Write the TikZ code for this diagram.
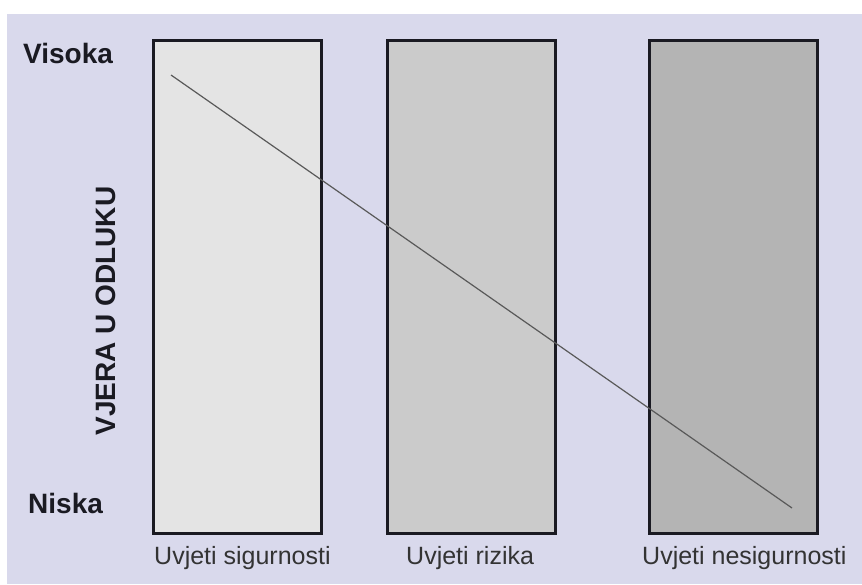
\documentclass[tikz,border=0pt]{standalone}
\usepackage{fontspec}
\setmainfont{Liberation Sans}
\definecolor{lavender}{RGB}{217,217,236}
\definecolor{lightfill}{RGB}{228,228,228}
\definecolor{midfill}{RGB}{203,203,203}
\definecolor{darkfill}{RGB}{180,180,180}
\definecolor{inkcol}{RGB}{26,26,34}
\tikzset{
  column/.style={draw=inkcol,line width=3,minimum width=168,minimum height=493,inner sep=0},
  levellabel/.style={anchor=base west,font=\fontsize{28}{30}\selectfont\bfseries,text=inkcol,inner sep=0},
  condlabel/.style={anchor=base west,font=\fontsize{25}{27}\selectfont,text=black!80,inner sep=0}
}
\begin{document}
\begin{tikzpicture}[x=1pt,y=-1pt]
        \useasboundingbox (0,0) rectangle (862,584);
        \fill[white] (0,0) rectangle (862,584);
        \fill[lavender] (7,14) rectangle (862,584);
        \node[column,fill=lightfill] (sig) at (237.5,287) {};
        \node[column,fill=midfill] (riz) at (471.5,287) {};
        \node[column,fill=darkfill] (nes) at (733.5,287) {};
        \draw[black!65,line width=1.2] (171,75) -- (792,508);
        \node[levellabel] (visoka) at (23,63) {Visoka};
        \node[levellabel] (niska) at (28,513) {Niska};
        \node[font=\fontsize{28}{30}\selectfont\bfseries,text=inkcol,rotate=90,inner sep=0] (vjera) at (106,311) {VJERA U ODLUKU};
        \node[condlabel] (lsig) at (154,564) {Uvjeti sigurnosti};
        \node[condlabel] (lriz) at (406,564) {Uvjeti rizika};
        \node[condlabel] (lnes) at (642,564) {Uvjeti nesigurnosti};
    \end{tikzpicture}
\end{document}
